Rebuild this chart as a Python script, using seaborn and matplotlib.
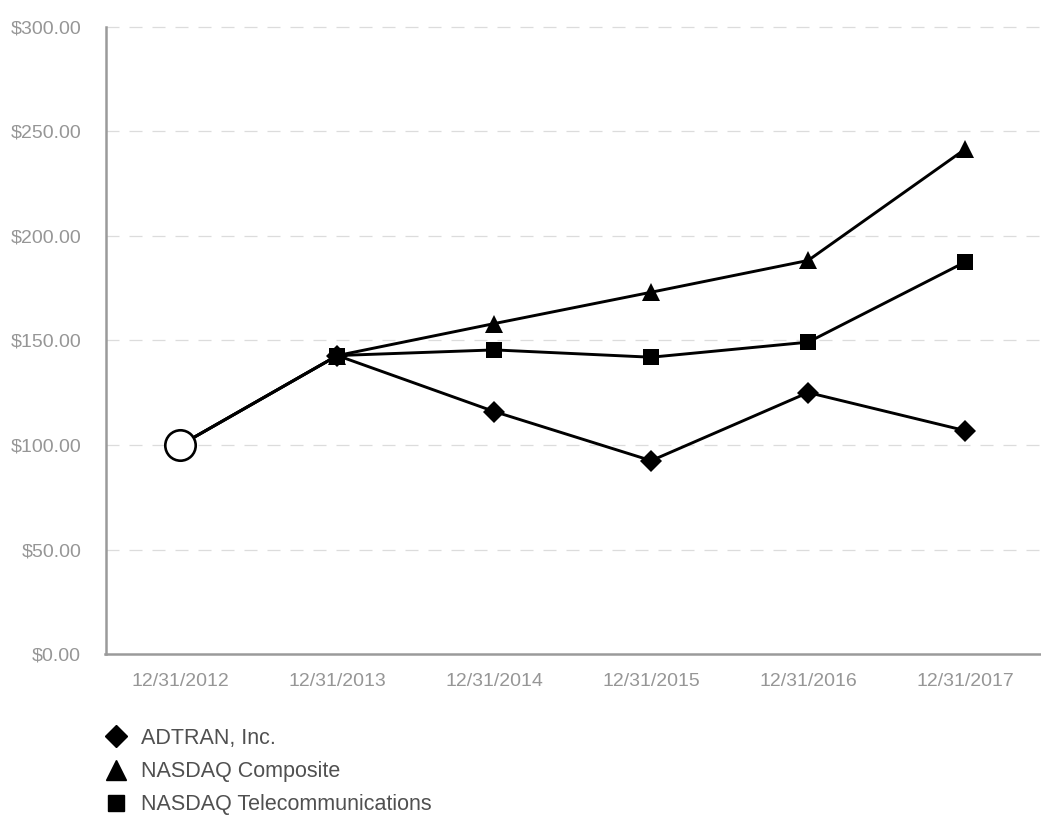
import matplotlib
matplotlib.use("Agg")
import matplotlib.pyplot as plt
from matplotlib.lines import Line2D
import seaborn as sns
import pandas as pd

# ---- data ----
dates = ["12/31/2012", "12/31/2013", "12/31/2014", "12/31/2015", "12/31/2016", "12/31/2017"]
adtran = [100.0, 142.8, 116.0, 92.5, 125.1, 106.9]
nasdaq_composite = [100.0, 142.8, 158.1, 173.1, 188.3, 241.5]
nasdaq_telecom = [100.0, 142.8, 145.5, 142.0, 149.2, 187.5]
series_names = ["ADTRAN, Inc.", "NASDAQ Composite", "NASDAQ Telecommunications"]
y_ticks = [0, 50, 100, 150, 200, 250, 300]

sns.set_theme(style="white")
plt.rcParams["font.family"] = ["Liberation Sans", "DejaVu Sans"]

W, H = 1041, 818
fig = plt.figure(figsize=(W / 100, H / 100), dpi=100)
ax = fig.add_axes([105.5 / W, (H - 654) / H, (1040 - 105.5) / W, (654 - 27) / H])

idx = list(range(len(dates)))
df = pd.DataFrame({"x": idx * 3,
                   "value": adtran + nasdaq_composite + nasdaq_telecom,
                   "series": sum([[n] * len(dates) for n in series_names], [])})

markers = {"ADTRAN, Inc.": ("D", 11), "NASDAQ Composite": ("^", 13.5), "NASDAQ Telecommunications": ("s", 12)}
for name in series_names:
    sub = df[df["series"] == name]
    m, ms = markers[name]
    sns.lineplot(data=sub, x="x", y="value", ax=ax, color="black", linewidth=2.1,
                 marker=m, markersize=ms, markevery=list(range(1, len(dates))),
                 markeredgewidth=0, markerfacecolor="black", zorder=3, sort=False)

# common start point (open circle)
start = df[df["x"] == 0].iloc[:1]
sns.scatterplot(data=start, x="x", y="value", ax=ax, s=480, facecolor="white",
                edgecolor="black", linewidth=1.9, zorder=4, legend=False)

ax.set_xlim(-0.478, 5.478)
ax.set_ylim(0, 300)
ax.set_yticks(y_ticks)
ax.set_yticklabels([f"${v:,.2f}" for v in y_ticks])
ax.set_xticks(idx)
ax.set_xticklabels(dates)
ax.set_xlabel("")
ax.set_ylabel("")

for v in y_ticks[1:]:
    ax.axhline(v, color="#dcdcdc", linewidth=0.9, linestyle=(0, (10.4, 8.0)), zorder=1, clip_on=False)

for s in ["top", "right"]:
    ax.spines[s].set_visible(False)
for s in ["left", "bottom"]:
    ax.spines[s].set_color("#9a9a9a")
    ax.spines[s].set_linewidth(1.8)

ax.tick_params(axis="both", length=0, labelsize=14, labelcolor="#969696")
ax.tick_params(axis="y", pad=17.5)
ax.tick_params(axis="x", pad=14)

handles = [Line2D([], [], color="black", marker="D", markersize=10.7, linestyle="none"),
           Line2D([], [], color="black", marker="^", markersize=14, linestyle="none"),
           Line2D([], [], color="black", marker="s", markersize=11, linestyle="none")]
leg = fig.legend(handles, series_names, loc="upper left", bbox_to_anchor=(104.75 / W, (H - 728) / H),
                 frameon=False, fontsize=15.5, handlelength=1.0, handletextpad=0.67,
                 labelspacing=0.56, borderaxespad=0, borderpad=0)
for t in leg.get_texts():
    t.set_color("#505050")

fig.savefig("out.png", dpi=100)
